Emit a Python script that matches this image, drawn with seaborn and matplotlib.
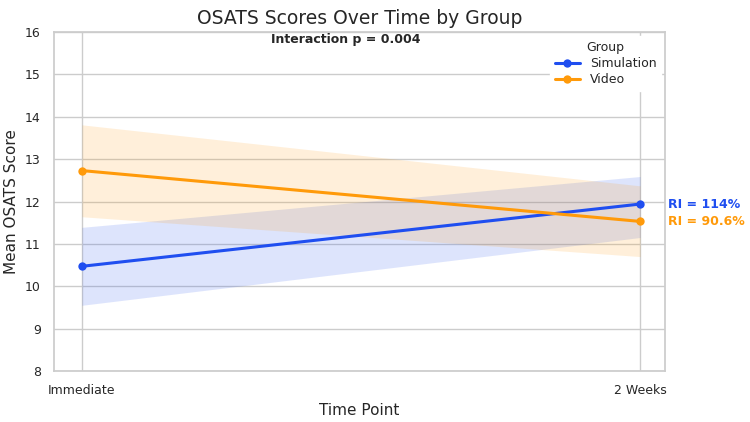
import matplotlib
matplotlib.use("Agg")
import matplotlib.pyplot as plt
import seaborn as sns
import pandas as pd
import numpy as np

time_points = ["Immediate", "2 Weeks"]
groups = ["Simulation", "Video"]
sim_mean = [10.47, 11.94]
sim_lo = [9.55, 11.15]
sim_hi = [11.39, 12.59]
vid_mean = [12.73, 11.53]
vid_lo = [11.64, 10.70]
vid_hi = [13.81, 12.37]
ri_labels = ["RI = 114%", "RI = 90.6%"]
colors = {"Simulation": "#1f4ef0", "Video": "#ff9a0a"}

df = pd.DataFrame({
    "Time": [0, 1, 0, 1],
    "Mean": sim_mean + vid_mean,
    "Group": ["Simulation"] * 2 + ["Video"] * 2,
})

sns.set_theme(style="whitegrid")
fig = plt.figure(figsize=(7.5, 4.22), dpi=100)
ax = fig.add_axes([0.072, 0.121, 0.815, 0.803])

ax.fill_between([0, 1], sim_lo, sim_hi, color=colors["Simulation"], alpha=0.15, linewidth=0)
ax.fill_between([0, 1], vid_lo, vid_hi, color=colors["Video"], alpha=0.15, linewidth=0)
sns.lineplot(data=df, x="Time", y="Mean", hue="Group", palette=colors,
             marker="o", markersize=6, markeredgewidth=0, linewidth=2.2, ax=ax)

ax.set_xlim(-0.05, 1.045)
ax.set_ylim(8, 16)
ax.set_xticks([0, 1])
ax.set_xticklabels(time_points, fontsize=9)
ax.tick_params(axis="y", labelsize=9)
ax.set_xlabel("Time Point", fontsize=11)
ax.set_ylabel("Mean OSATS Score", fontsize=11)
ax.set_title("OSATS Scores Over Time by Group", fontsize=13.5, pad=6)

ax.text(0.477, 0.997, "Interaction p = 0.004", transform=ax.transAxes,
        ha="center", va="top", fontsize=9, fontweight="bold")

for y, lab, g in [(sim_mean[1], ri_labels[0], "Simulation"), (vid_mean[1], ri_labels[1], "Video")]:
    ax.text(1.05, y, lab, color=colors[g], fontsize=9, fontweight="bold",
            va="center", ha="left", clip_on=False)

leg = ax.legend(title="Group", loc="upper right", fontsize=9, title_fontsize=9,
                frameon=True, framealpha=1.0, edgecolor="white",
                labelspacing=0.25, handlelength=2.0, borderaxespad=0.3)

fig.savefig("out.png", dpi=100)
